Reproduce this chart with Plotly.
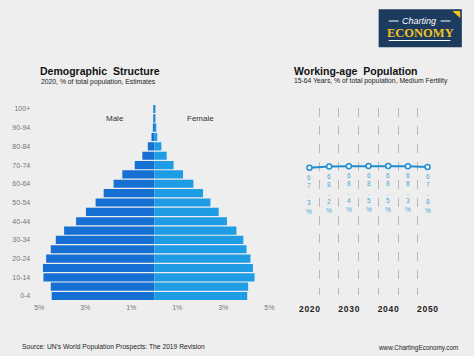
import plotly.graph_objects as go

# ---------------- data ----------------
age_groups = ['0-4', '5-9', '10-14', '15-19', '20-24', '25-29', '30-34', '35-39',
              '40-44', '45-49', '50-54', '55-59', '60-64', '65-69', '70-74',
              '75-79', '80-84', '85-89', '90-94', '95-99', '100+']
male_pct = [4.46, 4.50, 4.82, 4.84, 4.70, 4.50, 4.28, 3.92, 3.40, 2.97, 2.55,
            2.20, 1.77, 1.39, 0.85, 0.52, 0.28, 0.12, 0.06, 0.02, 0.01]
female_pct = [4.04, 4.08, 4.36, 4.29, 4.18, 4.01, 3.87, 3.57, 3.16, 2.80, 2.44,
              2.12, 1.70, 1.25, 0.84, 0.54, 0.31, 0.13, 0.09, 0.03, 0.01]
pyr_tick_vals = [-5, -3, -1, 1, 3, 5]
pyr_tick_text = ['5%', '3%', '1%', '1%', '3%', '5%']

wa_years = [2020, 2025, 2030, 2035, 2040, 2045, 2050]
wa_values = [67.3, 68.2, 68.4, 68.5, 68.5, 68.3, 67.8]
wa_tick_years = [2020, 2030, 2040, 2050]

FONT = "Arial, Liberation Sans, sans-serif"
MALE_C = '#1670d4'
FEMALE_C = '#1f9de4'
LINE_C = '#1e8fd2'

fig = go.Figure()

# --- population pyramid ---
fig.add_trace(go.Bar(y=age_groups, x=[-v for v in male_pct], orientation='h',
                     marker=dict(color=MALE_C, line=dict(width=0)), name='Male',
                     xaxis='x', yaxis='y'))
fig.add_trace(go.Bar(y=age_groups, x=female_pct, orientation='h',
                     marker=dict(color=FEMALE_C, line=dict(width=0)), name='Female',
                     xaxis='x', yaxis='y'))

# --- working-age line ---
fig.add_trace(go.Scatter(x=wa_years, y=wa_values, mode='lines+markers',
                         line=dict(color=LINE_C, width=2),
                         marker=dict(symbol='circle', size=5, color='white',
                                     line=dict(color=LINE_C, width=1.5)),
                         xaxis='x2', yaxis='y2', cliponaxis=False))

W, H = 474, 356
def px_x(p):
    return p / W
def px_y(p):
    return 1 - p / H

fig.update_layout(
    width=W, height=H, margin=dict(l=0, r=0, t=0, b=0),
    paper_bgcolor='#eeeeee', plot_bgcolor='rgba(0,0,0,0)',
    showlegend=False, barmode='relative', bargap=0.13,
    font=dict(family=FONT, color='#333'),
    xaxis=dict(domain=[px_x(35), px_x(270)], range=[-5, 5],
               tickvals=pyr_tick_vals, ticktext=pyr_tick_text,
               showgrid=False, zeroline=False, showline=False,
               tickfont=dict(size=7, color='#777'), ticks='', ticklabelstandoff=1),
    yaxis=dict(domain=[px_y(300.7), px_y(104.3)], type='category',
               categoryorder='array', categoryarray=age_groups,
               tickvals=age_groups[::2], showgrid=False, zeroline=False,
               showline=False, ticks='', tickfont=dict(size=7, color='#777'),
               ticklabelstandoff=8),
    xaxis2=dict(domain=[px_x(301), px_x(441.7)], range=[2017.5, 2052.5],
                anchor='y2', tickvals=wa_tick_years,
                ticktext=['\u200a'.join(str(y)) for y in wa_tick_years],
                showgrid=False, zeroline=False, showline=False, ticks='',
                tickfont=dict(size=8.5, color='#222', weight='bold'),
                ticklabelstandoff=7,
                minor=dict(tickvals=[y - 2.5 for y in wa_years] + [wa_years[-1] + 2.5],
                           showgrid=True, griddash='dash', gridcolor='#b8b8b8',
                           gridwidth=1, ticks='')),
    yaxis2=dict(domain=[px_y(295), px_y(108)], range=[-28, 112], anchor='x2',
                showgrid=False, zeroline=False, showline=False,
                showticklabels=False, ticks=''),
)

ann = []
def A(text, x, y, size, color='#222', bold=False, xanchor='left', **kw):
    ann.append(dict(text=f"<b>{text}</b>" if bold else text, x=px_x(x), y=px_y(y),
                    xref='paper', yref='paper', showarrow=False, xanchor=xanchor,
                    yanchor='middle', font=dict(family=FONT, size=size, color=color), **kw))

# vertical stacked value labels under each point
for yr, v in zip(wa_years, wa_values):
    ann.append(dict(text='<br>'.join(list(f"{v:.1f}%")), x=yr, y=v, xref='x2', yref='y2',
                    showarrow=False, xanchor='center', yanchor='top', yshift=-4,
                    font=dict(family=FONT, size=6.5, color='#4aa6d6')))

A('Demographic  Structure', 34, 71, 10.5, '#111', bold=True)
A('2020, % of total population, Estimates', 35, 82, 6.8, '#222')
A('Working-age  Population', 293, 71, 10.5, '#111', bold=True)
A('15-64 Years, % of total population, Medium Fertility', 293, 81.5, 6.8, '#222')
A('Male', 112.5, 118.5, 8, '#333', xanchor='center')
A('Female', 199.5, 118.5, 8, '#333', xanchor='center')
A("Source: UN's World Population Prospects: The 2019 Revision", 15, 346.5, 6.7, '#222')
A('www.ChartingEconomy.com', 465, 347.5, 6.4, '#222', xanchor='right')
# logo text
A('<i>Charting</i>', 423, 20.5, 9, 'white', xanchor='center')
ann.append(dict(text='<b>ECONOMY</b>', x=px_x(424), y=px_y(32.5), xref='paper', yref='paper',
                showarrow=False, xanchor='center', yanchor='middle',
                font=dict(family='Liberation Serif, Times New Roman, serif', size=12.5,
                          color='#f2c21e')))
fig.update_layout(annotations=ann)

shapes = [
    # logo
    dict(type='rect', xref='paper', yref='paper', x0=px_x(381.7), x1=px_x(466.7),
         y0=px_y(47.3), y1=px_y(9.3), fillcolor='#1c3b5e', line=dict(width=0), layer='below'),
    dict(type='line', xref='paper', yref='paper', x0=px_x(392), x1=px_x(402),
         y0=px_y(21), y1=px_y(21), line=dict(color='white', width=1)),
    dict(type='line', xref='paper', yref='paper', x0=px_x(445), x1=px_x(455),
         y0=px_y(21), y1=px_y(21), line=dict(color='white', width=1)),
    dict(type='line', xref='paper', yref='paper', x0=px_x(392), x1=px_x(455),
         y0=px_y(40.5), y1=px_y(40.5), line=dict(color='white', width=1)),
    dict(type='path', xref='paper', yref='paper',
         path=f"M {px_x(457)},{px_y(11)} L {px_x(465)},{px_y(11)} L {px_x(465)},{px_y(18)} Z",
         fillcolor='#f2c21e', line=dict(width=0)),
]
fig.update_layout(shapes=shapes)

fig.write_html("out.html", config={'displayModeBar': False},
               post_script="document.body.style.margin='0';document.body.style.overflow='hidden';")
